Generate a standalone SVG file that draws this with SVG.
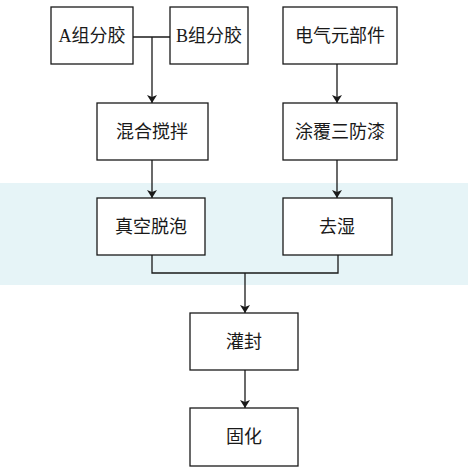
<svg xmlns="http://www.w3.org/2000/svg" width="468" height="469" viewBox="0 0 468 469">
<style>
.box{fill:#fff;stroke:#1a1a1a;stroke-width:1.3}
.lbl{font-family:"Liberation Serif","Noto Sans CJK SC",serif;font-size:18px;fill:#1a1a1a;text-anchor:middle;dominant-baseline:central}
.ln{fill:none;stroke:#1a1a1a;stroke-width:1.3}
</style>
<defs>
<marker id="ah" viewBox="0 0 8 10" refX="8" refY="5" markerWidth="8" markerHeight="10" markerUnits="userSpaceOnUse" orient="auto">
<path d="M0,0 L8,5 L0,10 L2,5 Z" fill="#1a1a1a"/>
</marker>
</defs>
<rect width="468" height="469" fill="#fff"/>
<rect x="0" y="183" width="468" height="102" fill="#e6f4f7"/>
<g id="connectors">
<path class="ln" d="M133,37 H170"/>
<path class="ln" d="M152,37 V103" marker-end="url(#ah)"/>
<path class="ln" d="M337,64 V103" marker-end="url(#ah)"/>
<path class="ln" d="M152,160 V198" marker-end="url(#ah)"/>
<path class="ln" d="M337,160 V198" marker-end="url(#ah)"/>
<path class="ln" d="M152,255 V273 H338 V255"/>
<path class="ln" d="M245,273 V313" marker-end="url(#ah)"/>
<path class="ln" d="M245,370 V408" marker-end="url(#ah)"/>
</g>
<g id="nodeA"><rect class="box" x="51" y="7" width="82" height="57"/><text class="lbl" x="92" y="36">A组分胶</text></g>
<g id="nodeB"><rect class="box" x="170" y="7" width="78" height="57"/><text class="lbl" x="209" y="36">B组分胶</text></g>
<g id="nodeE"><rect class="box" x="283" y="7" width="114" height="57"/><text class="lbl" x="340" y="36">电气元部件</text></g>
<g id="nodeMix"><rect class="box" x="97" y="103" width="111" height="57"/><text class="lbl" x="152" y="132">混合搅拌</text></g>
<g id="nodeCoat"><rect class="box" x="283" y="103" width="114" height="57"/><text class="lbl" x="340" y="132">涂覆三防漆</text></g>
<g id="nodeVac"><rect class="box" x="97" y="198" width="108" height="57"/><text class="lbl" x="151" y="227">真空脱泡</text></g>
<g id="nodeDry"><rect class="box" x="283" y="198" width="109" height="57"/><text class="lbl" x="337" y="227">去湿</text></g>
<g id="nodePot"><rect class="box" x="190" y="313" width="108" height="57"/><text class="lbl" x="244" y="342">灌封</text></g>
<g id="nodeCure"><rect class="box" x="190" y="408" width="108" height="58"/><text class="lbl" x="244" y="437">固化</text></g>
</svg>
